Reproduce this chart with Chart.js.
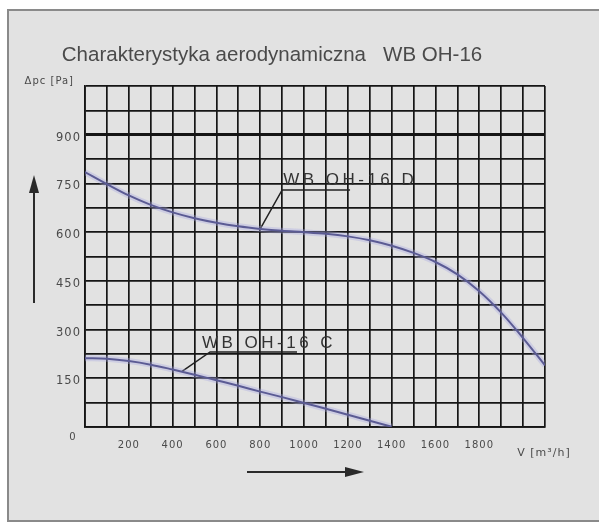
<!DOCTYPE html>
<html lang="pl">
<head>
    <meta charset="UTF-8">
    <title>Charakterystyka aerodynamiczna WB OH-16</title>
    <script src="https://cdn.jsdelivr.net/npm/chart.js"></script>
    <style>
        body {
            margin: 0;
            background: #ffffff;
        }
        .wrap {
            width: 599px;
            height: 524px;
        }
    </style>
</head>
<body>
    <div class="wrap">
        <canvas id="chart" width="599" height="524"></canvas>
    </div>

    <script>
        // flow V [m3/h] and pressure dpc [Pa]
        const flowD = [0, 100, 200, 300, 400, 500, 600, 700, 800, 900, 1000,
                       1100, 1200, 1300, 1400, 1500, 1600, 1700, 1800, 1900, 2000, 2100];
        const pressureD = [785, 748, 713, 684, 661, 643, 629, 618, 610, 604, 600,
                           595, 587, 575, 558, 536, 508, 470, 418, 352, 274, 190];

        const flowC = [0, 100, 200, 300, 400, 500, 600, 700, 800, 900, 1000,
                       1100, 1200, 1300, 1400];
        const pressureC = [212, 210, 203, 192, 177, 161, 144, 127, 109, 92, 74,
                           56, 38, 19, 1];

        const xTickLabels = [200, 400, 600, 800, 1000, 1200, 1400, 1600, 1800];
        const yTickLabels = [150, 300, 450, 600, 750, 900];

        const chartTitle = 'Charakterystyka aerodynamiczna   WB OH-16';

        // leader lines of the two curve labels
        const labelD = 'WB OH-16 D';
        const leaderDx = [800, 900, 1210];
        const leaderDy = [610, 730, 730];
        const labelC = 'WB OH-16 C';
        const leaderCx = [443, 571, 968];
        const leaderCy = [171, 231, 231];
        const labelCStart = 534;

        const toPoints = (xs, ys) => xs.map((x, i) => ({ x: x, y: ys[i] }));

        const lineColor = '#34346a';
        const haloColor = 'rgba(165, 165, 225, 0.35)';

        const decorations = {
            id: 'decorations',
            beforeDraw(chart) {
                const ctx = chart.ctx;
                ctx.save();
                ctx.fillStyle = '#ffffff';
                ctx.fillRect(0, 0, chart.width, chart.height);
                ctx.fillStyle = '#e2e2e2';
                ctx.fillRect(8, 10, chart.width - 8, 511);
                ctx.strokeStyle = '#8a8a8a';
                ctx.lineWidth = 2;
                ctx.beginPath();
                ctx.moveTo(chart.width + 2, 10);
                ctx.lineTo(8, 10);
                ctx.lineTo(8, 521);
                ctx.lineTo(chart.width + 2, 521);
                ctx.stroke();
                ctx.restore();
                // wide spaced digits for the tick labels
                ctx.letterSpacing = '1px';
            },
            afterDraw(chart) {
                const ctx = chart.ctx;
                const area = chart.chartArea;
                const xs = chart.scales.x;
                const ys = chart.scales.y;
                ctx.save();

                // title
                ctx.letterSpacing = '0px';
                ctx.fillStyle = '#4a4a4a';
                ctx.font = '20.5px "Liberation Sans", Arial, sans-serif';
                ctx.textAlign = 'center';
                ctx.textBaseline = 'middle';
                ctx.fillText(chartTitle, 272, 55);

                // axis names
                ctx.letterSpacing = '1px';
                ctx.font = '10px "DejaVu Sans"';
                ctx.textAlign = 'right';
                ctx.fillText('\u0394pc [Pa]', area.left - 11, area.top - 5);
                ctx.font = '10px "DejaVu Sans"';
                ctx.textAlign = 'center';
                ctx.fillText('0', area.left - 12, ys.getPixelForValue(0) + 10);
                ctx.font = '11px "DejaVu Sans"';
                ctx.fillText('V [m\u00b3/h]', area.right - 1, area.bottom + 26);

                // direction arrows
                ctx.strokeStyle = '#2a2a2a';
                ctx.fillStyle = '#2a2a2a';
                ctx.lineWidth = 2;
                ctx.beginPath();
                ctx.moveTo(34, 303);
                ctx.lineTo(34, 190);
                ctx.stroke();
                ctx.beginPath();
                ctx.moveTo(34, 175);
                ctx.lineTo(29, 193);
                ctx.lineTo(39, 193);
                ctx.closePath();
                ctx.fill();

                ctx.beginPath();
                ctx.moveTo(247, 472);
                ctx.lineTo(348, 472);
                ctx.stroke();
                ctx.beginPath();
                ctx.moveTo(364, 472);
                ctx.lineTo(345, 467);
                ctx.lineTo(345, 477);
                ctx.closePath();
                ctx.fill();

                // curve labels
                ctx.fillStyle = '#333333';
                ctx.font = '17px "Liberation Sans", Arial, sans-serif';
                ctx.textAlign = 'left';
                ctx.textBaseline = 'alphabetic';
                ctx.letterSpacing = '3.5px';
                ctx.fillText(labelD, xs.getPixelForValue(leaderDx[1]) + 1,
                             ys.getPixelForValue(leaderDy[1]) - 5);
                ctx.fillText(labelC, xs.getPixelForValue(labelCStart),
                             ys.getPixelForValue(leaderCy[1]) - 4);
                ctx.restore();
                ctx.letterSpacing = '0px';
            }
        };

        new Chart(document.getElementById('chart'), {
            type: 'line',
            data: {
                datasets: [
                    {
                        label: 'halo D',
                        data: toPoints(flowD, pressureD),
                        borderColor: haloColor,
                        borderWidth: 6,
                        pointRadius: 0,
                        cubicInterpolationMode: 'monotone'
                    },
                    {
                        label: 'halo C',
                        data: toPoints(flowC, pressureC),
                        borderColor: haloColor,
                        borderWidth: 6,
                        pointRadius: 0,
                        cubicInterpolationMode: 'monotone'
                    },
                    {
                        label: 'WB OH-16 D',
                        data: toPoints(flowD, pressureD),
                        borderColor: lineColor,
                        borderWidth: 2,
                        pointRadius: 0,
                        cubicInterpolationMode: 'monotone'
                    },
                    {
                        label: 'WB OH-16 C',
                        data: toPoints(flowC, pressureC),
                        borderColor: lineColor,
                        borderWidth: 2,
                        pointRadius: 0,
                        cubicInterpolationMode: 'monotone'
                    },
                    {
                        label: 'leader D',
                        data: toPoints(leaderDx, leaderDy),
                        borderColor: '#222222',
                        borderWidth: 1.5,
                        pointRadius: 0,
                        tension: 0
                    },
                    {
                        label: 'leader C',
                        data: toPoints(leaderCx, leaderCy),
                        borderColor: '#222222',
                        borderWidth: 1.5,
                        pointRadius: 0,
                        tension: 0
                    }
                ]
            },
            options: {
                responsive: false,
                animation: false,
                events: [],
                layout: {
                    padding: { left: 10, right: 54, top: 86, bottom: 10 }
                },
                plugins: {
                    legend: { display: false },
                    tooltip: { enabled: false },
                    title: { display: false }
                },
                scales: {
                    x: {
                        type: 'linear',
                        min: 0,
                        max: 2100,
                        afterFit(scale) { scale.height = 87; },
                        ticks: {
                            stepSize: 100,
                            autoSkip: false,
                            maxRotation: 0,
                            padding: 12,
                            color: '#4a4a4a',
                            font: { family: '"DejaVu Sans"', size: 10 },
                            callback: v => xTickLabels.includes(v) ? String(v) : ''
                        },
                        grid: {
                            color: '#151515',
                            lineWidth: 1.7,
                            drawTicks: false
                        },
                        border: { color: '#151515', width: 1.7 }
                    },
                    y: {
                        type: 'linear',
                        min: 0,
                        max: 1050,
                        afterFit(scale) { scale.width = 75; },
                        ticks: {
                            stepSize: 75,
                            autoSkip: false,
                            padding: 4,
                            labelOffset: 3,
                            color: '#4a4a4a',
                            font: { family: '"DejaVu Sans"', size: 11.5 },
                            callback: v => yTickLabels.includes(v) ? String(v) : ''
                        },
                        grid: {
                            color: '#151515',
                            lineWidth: ctx => ctx.tick && ctx.tick.value === 900 ? 3 : 1.7,
                            drawTicks: false
                        },
                        border: { color: '#151515', width: 1.7 }
                    }
                }
            },
            plugins: [decorations]
        });
    </script>
</body>
</html>
